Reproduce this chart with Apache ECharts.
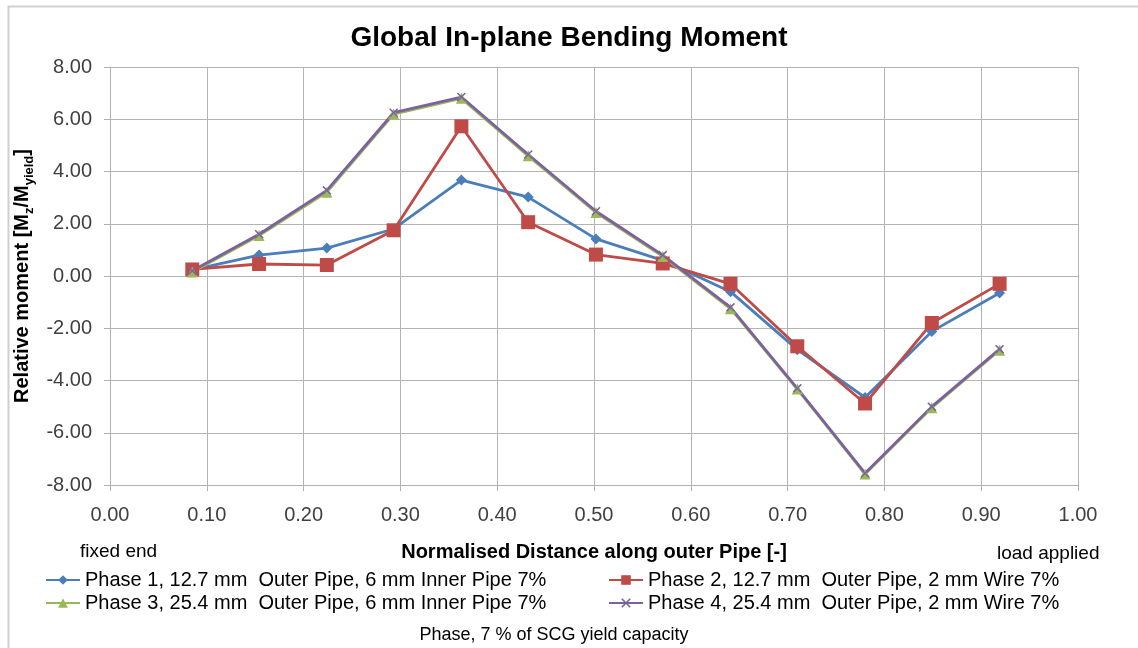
<!DOCTYPE html>
<html>
<head>
<meta charset="utf-8">
<style>
  html, body { margin: 0; padding: 0; background: #fff; }
  #chart { width: 1138px; height: 648px; }
</style>
<script src="https://cdn.jsdelivr.net/npm/echarts@6/dist/echarts.min.js"></script>
</head>
<body>
<div id="chart"></div>
<script>
// normalised distance along outer pipe
const distance = [0.085, 0.154, 0.224, 0.293, 0.363, 0.432, 0.502, 0.571, 0.641, 0.710, 0.780, 0.849, 0.919];

const phase1 = [0.23, 0.80, 1.07, 1.80, 3.67, 3.02, 1.42, 0.60, -0.60, -2.82, -4.65, -2.12, -0.65];
const phase2 = [0.25, 0.46, 0.42, 1.75, 5.73, 2.06, 0.82, 0.48, -0.30, -2.69, -4.88, -1.80, -0.30];
const phase3 = [0.15, 1.55, 3.21, 6.20, 6.80, 4.60, 2.43, 0.75, -1.25, -4.33, -7.58, -5.04, -2.84];
const phase4 = [0.20, 1.60, 3.28, 6.25, 6.85, 4.65, 2.48, 0.80, -1.20, -4.30, -7.55, -5.00, -2.80];

const seriesNames = [
  "Phase 1, 12.7 mm  Outer Pipe, 6 mm Inner Pipe 7%",
  "Phase 2, 12.7 mm  Outer Pipe, 2 mm Wire 7%",
  "Phase 3, 25.4 mm  Outer Pipe, 6 mm Inner Pipe 7%",
  "Phase 4, 25.4 mm  Outer Pipe, 2 mm Wire 7%"
];

const FONT = "Liberation Sans, Arial, sans-serif";
const xMark = "path://M0,1.2L1.2,0L10,8.8L8.8,10Z M8.8,0L10,1.2L1.2,10L0,8.8Z";

function pairs(values) {
  return values.map((v, i) => [distance[i], v]);
}

function lineSeries(name, values, color, symbol, size) {
  return {
    name,
    type: "line",
    data: pairs(values),
    symbol,
    symbolSize: size,
    showAllSymbol: true,
    lineStyle: { color, width: 2.8 },
    itemStyle: { color },
    emphasis: { disabled: true }
  };
}

const chart = echarts.init(document.getElementById("chart"));

const legendText = { fontFamily: FONT, fontSize: 20, color: "#000" };

chart.setOption({
  animation: false,
  title: {
    text: "Global In-plane Bending Moment",
    left: "center",
    top: 19,
    textStyle: { fontFamily: FONT, fontSize: 28, fontWeight: "bold", color: "#000" }
  },
  grid: { left: 110, right: 60, top: 67, bottom: 163 },
  legend: [
    {
      data: [seriesNames[0], seriesNames[2]],
      orient: "vertical",
      left: 40,
      top: 565,
      itemWidth: 34,
      itemHeight: 12,
      itemGap: 3,
      textStyle: legendText
    },
    {
      data: [seriesNames[1], seriesNames[3]],
      orient: "vertical",
      left: 603,
      top: 565,
      itemWidth: 34,
      itemHeight: 12,
      itemGap: 3,
      textStyle: legendText
    }
  ],
  xAxis: {
    type: "value",
    min: 0,
    max: 1,
    interval: 0.1,
    name: "Normalised Distance along outer Pipe [-]",
    nameLocation: "middle",
    nameGap: 57,
    nameTextStyle: { fontFamily: FONT, fontSize: 20, fontWeight: "bold", color: "#000" },
    axisLine: { onZero: false, lineStyle: { color: "#b0b0b0", width: 1 } },
    axisTick: { show: true, length: 6, lineStyle: { color: "#b0b0b0" } },
    axisLabel: {
      margin: 20,
      fontFamily: FONT,
      fontSize: 20,
      color: "#404040",
      formatter: (v) => v.toFixed(2)
    },
    splitLine: { show: true, lineStyle: { color: "#b4b4b4", width: 1 } }
  },
  yAxis: {
    type: "value",
    min: -8,
    max: 8,
    interval: 2,
    name: "{b|Relative moment [M}{s|z}{b|/M}{s|yield}{b|]}",
    nameLocation: "middle",
    nameRotate: 90,
    nameGap: 70,
    nameTextStyle: {
      rich: {
        b: { fontFamily: FONT, fontSize: 20, fontWeight: "bold", color: "#000", lineHeight: 26 },
        s: { fontFamily: FONT, fontSize: 13, fontWeight: "bold", color: "#000", lineHeight: 26, verticalAlign: "bottom" }
      }
    },
    axisLine: { show: true, lineStyle: { color: "#b0b0b0", width: 1 } },
    axisTick: { show: true, length: 6, lineStyle: { color: "#b0b0b0" } },
    axisLabel: {
      margin: 18,
      fontFamily: FONT,
      fontSize: 20,
      color: "#404040",
      formatter: (v) => v.toFixed(2)
    },
    splitLine: { show: true, lineStyle: { color: "#b4b4b4", width: 1 } }
  },
  graphic: [
    {
      type: "rect",
      shape: { x: 8.5, y: 6.5, width: 1200, height: 700 },
      style: { fill: "none", stroke: "#d0d0d0", lineWidth: 2 },
      silent: true,
      z: -10
    },
    {
      type: "text",
      left: 80,
      top: 542,
      style: { text: "fixed end", font: "19px " + FONT, fill: "#000" }
    },
    {
      type: "text",
      left: 997,
      top: 544,
      style: { text: "load applied", font: "19px " + FONT, fill: "#000" }
    },
    {
      type: "text",
      x: 554,
      y: 626,
      style: { text: "Phase, 7 % of SCG yield capacity", font: "18px " + FONT, fill: "#000", textAlign: "center" }
    }
  ],
  series: [
    lineSeries(seriesNames[0], phase1, "#4a7ebb", "diamond", 11),
    lineSeries(seriesNames[1], phase2, "#be4b48", "rect", 14),
    lineSeries(seriesNames[2], phase3, "#98b954", "triangle", 11),
    lineSeries(seriesNames[3], phase4, "#7d60a0", xMark, 9)
  ]
});
</script>
</body>
</html>
